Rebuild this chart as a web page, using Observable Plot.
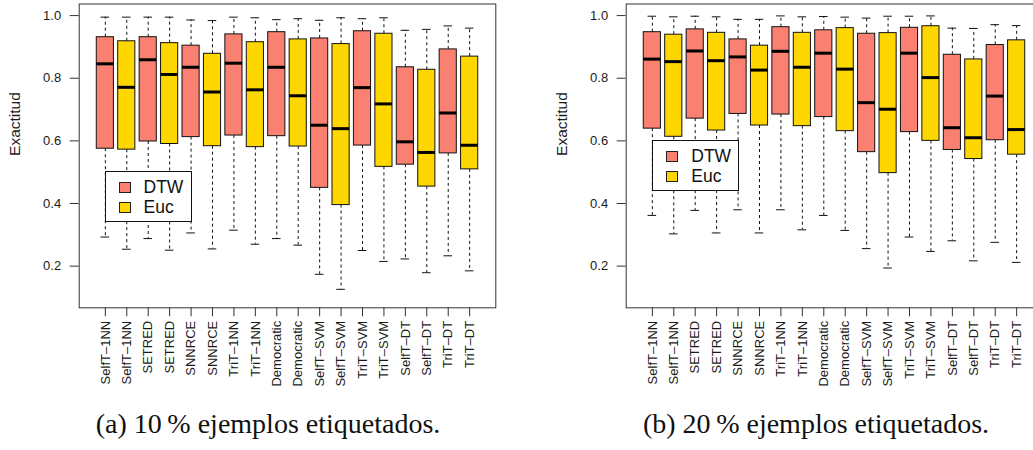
<!DOCTYPE html>
<html>
<head>
<meta charset="utf-8">
<script src="https://cdn.jsdelivr.net/npm/d3@7"></script>
<script src="https://cdn.jsdelivr.net/npm/@observablehq/plot@0.6"></script>
<style>
  html, body { margin: 0; padding: 0; background: #fff; }
  #fig { position: relative; width: 1033px; height: 450px; overflow: hidden; background: #fff; }
  .panel { position: absolute; top: 0; width: 547px; height: 395px; }
  .panel svg { max-width: none !important; }
  .legend { position: absolute; background: #fff; border: 1px solid #111; box-sizing: border-box;
            font-family: "Liberation Sans", Arial, sans-serif; font-size: 17.5px; color: #111; }
  .legend .row { position: absolute; left: 0; height: 19px; line-height: 19px; white-space: nowrap; }
  .legend .sw { position: absolute; left: 13px; top: 4px; width: 10px; height: 9px; border: 1px solid #222; }
  .legend .lab { position: absolute; left: 38px; top: 0; line-height: 19px; }
  .cap { position: absolute; font-family: "Liberation Serif", "DejaVu Serif", serif; font-size: 28px; color: #111;
         white-space: nowrap; transform: translateX(-50%); line-height: 32px; }
</style>
</head>
<body>
<div id="fig">
  <div id="pa" class="panel" style="left:0px"></div>
  <div id="pb" class="panel" style="left:547px"></div>
</div>
<script>
// ---- data ----
const methods = ["SelfT\u20131NN", "SETRED", "SNNRCE", "TriT\u20131NN", "Democratic", "SelfT\u2013SVM", "TriT\u2013SVM", "SelfT\u2013DT", "TriT\u2013DT"];
const metrics = ["DTW", "Euc"];
const metricColors = ["#FA8072", "#FFD700"];
const yTicks = [0.2, 0.4, 0.6, 0.8, 1.0];
const yLabel = "Exactitud";
const captions = ["(a) 10\u2009% ejemplos etiquetados.", "(b) 20\u2009% ejemplos etiquetados."];

// boxes in order: method1-DTW, method1-Euc, method2-DTW, ...
// 10 % labelled
const hi10  = [0.995, 0.995, 0.995, 0.995, 0.986, 0.984, 0.995, 0.993, 0.987, 0.990, 0.985, 0.993, 0.990, 0.993, 0.953, 0.956, 0.967, 0.960];
const q3_10 = [0.931, 0.918, 0.931, 0.912, 0.904, 0.878, 0.940, 0.915, 0.947, 0.924, 0.927, 0.909, 0.950, 0.942, 0.835, 0.827, 0.892, 0.869];
const med10 = [0.846, 0.771, 0.859, 0.812, 0.835, 0.756, 0.848, 0.763, 0.835, 0.744, 0.650, 0.639, 0.770, 0.718, 0.597, 0.563, 0.689, 0.586];
const q1_10 = [0.575, 0.572, 0.598, 0.590, 0.612, 0.583, 0.617, 0.580, 0.615, 0.582, 0.450, 0.395, 0.585, 0.517, 0.524, 0.454, 0.560, 0.509];
const lo10  = [0.293, 0.254, 0.288, 0.251, 0.306, 0.255, 0.315, 0.270, 0.288, 0.267, 0.174, 0.126, 0.250, 0.215, 0.223, 0.179, 0.233, 0.185];
// 20 % labelled
const hi20  = [0.998, 0.996, 0.998, 0.996, 0.988, 0.988, 0.999, 0.996, 0.997, 0.995, 0.992, 0.998, 0.998, 0.999, 0.960, 0.959, 0.971, 0.968];
const q3_20 = [0.947, 0.939, 0.956, 0.945, 0.924, 0.904, 0.963, 0.945, 0.953, 0.960, 0.942, 0.944, 0.961, 0.966, 0.875, 0.860, 0.906, 0.921];
const med20 = [0.861, 0.853, 0.887, 0.856, 0.868, 0.826, 0.886, 0.835, 0.880, 0.829, 0.722, 0.701, 0.880, 0.802, 0.642, 0.610, 0.743, 0.636];
const q1_20 = [0.639, 0.613, 0.671, 0.633, 0.686, 0.649, 0.684, 0.647, 0.676, 0.631, 0.564, 0.497, 0.628, 0.600, 0.571, 0.542, 0.602, 0.556];
const lo20  = [0.362, 0.303, 0.378, 0.306, 0.380, 0.306, 0.380, 0.316, 0.362, 0.314, 0.256, 0.194, 0.293, 0.247, 0.281, 0.217, 0.276, 0.212];

// ---- build ----
const tickLabels = methods.flatMap(m => [m, m]);
function table(lo, q1, med, q3, hi) {
  return tickLabels.map((m, k) => ({
    i: k + 1, method: m, metric: metrics[k % 2],
    lo: lo[k], q1: q1[k], med: med[k], q3: q3[k], hi: hi[k]
  }));
}
const font = '"Liberation Sans", Arial, Helvetica, sans-serif';

function panel(data) {
  return Plot.plot({
    width: 547, height: 395,
    marginLeft: 78.7, marginRight: 51.7, marginTop: 3.5, marginBottom: 87.7,
    style: { fontFamily: font, fontSize: "13px", color: "#1a1a1a", background: "transparent", maxWidth: "none" },
    x: { type: "linear", domain: [-0.22, 19.22], axis: null },
    y: { domain: [0.067, 1.037], axis: null },
    color: { domain: metrics, range: metricColors },
    marks: [
      Plot.ruleX(data, { x: "i", y1: "q3", y2: "hi", stroke: "#111", strokeDasharray: "3,3" }),
      Plot.ruleX(data, { x: "i", y1: "q1", y2: "lo", stroke: "#111", strokeDasharray: "3,3" }),
      Plot.ruleY(data, { y: "hi", x1: d => d.i - 0.2, x2: d => d.i + 0.2, stroke: "#111" }),
      Plot.ruleY(data, { y: "lo", x1: d => d.i - 0.2, x2: d => d.i + 0.2, stroke: "#111" }),
      Plot.rect(data, { x1: d => d.i - 0.4, x2: d => d.i + 0.4, y1: "q1", y2: "q3", fill: "metric", stroke: "#111", strokeWidth: 1 }),
      Plot.ruleY(data, { y: "med", x1: d => d.i - 0.4, x2: d => d.i + 0.4, stroke: "#000", strokeWidth: 3 }),
      Plot.frame({ stroke: "#333" }),
      Plot.axisY(yTicks, { tickSize: 9, tickPadding: 9, tickFormat: d3.format(".1f"), fontSize: 13, label: null, stroke: "#333" }),
      Plot.axisX(d3.range(1, 19), { tickSize: 9, tickPadding: 4, tickRotate: -90, tickFormat: i => tickLabels[i - 1], fontSize: 13, label: null, stroke: "#333" }),
      Plot.text([yLabel], { frameAnchor: "left", dx: -64, rotate: -90, fontSize: 15.5, fill: "#1a1a1a" })
    ]
  });
}

function legend(parent, left, top) {
  const L = document.createElement("div");
  L.className = "legend";
  L.style.left = left + "px"; L.style.top = top + "px";
  L.style.width = "87px"; L.style.height = "51px";
  metrics.forEach((m, k) => {
    const r = document.createElement("div");
    r.className = "row";
    r.style.top = (6 + k * 19.5) + "px";
    r.innerHTML = `<span class="sw" style="background:${metricColors[k]}"></span><span class="lab">${m}</span>`;
    L.appendChild(r);
  });
  parent.appendChild(L);
}

const fig = document.getElementById("fig");
document.getElementById("pa").appendChild(panel(table(lo10, q1_10, med10, q3_10, hi10)));
document.getElementById("pb").appendChild(panel(table(lo20, q1_20, med20, q3_20, hi20)));
legend(fig, 104.5, 171);
legend(fig, 652.3, 140.3);

[[268, captions[0]], [816, captions[1]]].forEach(([cx, t]) => {
  const c = document.createElement("div");
  c.className = "cap";
  c.style.left = cx + "px"; c.style.top = "408px";
  c.textContent = t;
  fig.appendChild(c);
});
</script>
</body>
</html>
